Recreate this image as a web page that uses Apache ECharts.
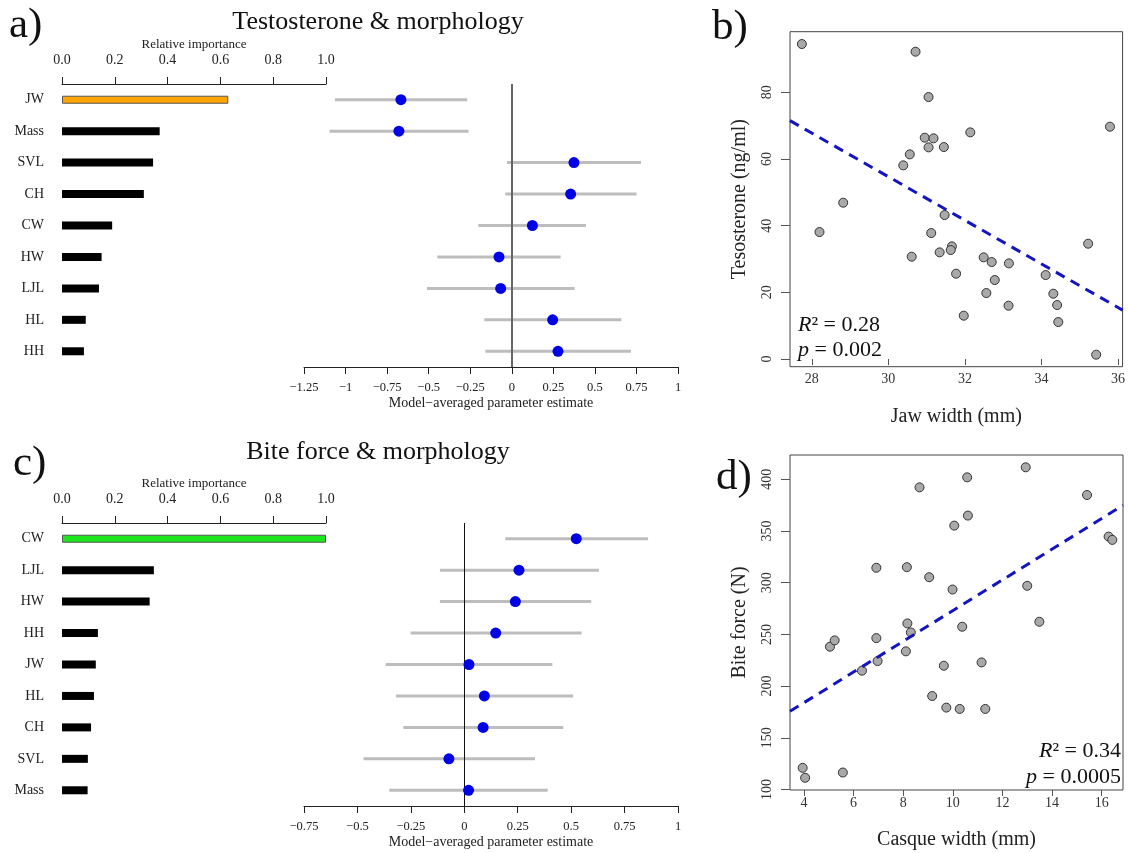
<!DOCTYPE html>
<html>
<head>
<meta charset="utf-8">
<script src="https://cdn.jsdelivr.net/npm/echarts@6/dist/echarts.min.js"></script>
<style>
html,body{margin:0;padding:0;background:#fff;}
#chart{width:1128px;height:853px;}
</style>
</head>
<body>
<div id="chart"></div>
<script>
// ---------- Data ----------
const aCats = ['JW','Mass','SVL','CH','CW','HW','LJL','HL','HH'];
const aImportance = [0.63,0.37,0.345,0.31,0.19,0.15,0.14,0.09,0.083];
const aEstimate = [-0.667,-0.679,0.374,0.354,0.124,-0.077,-0.067,0.246,0.278];
const aLower = [-1.064,-1.096,-0.029,-0.039,-0.201,-0.448,-0.51,-0.165,-0.159];
const aUpper = [-0.268,-0.26,0.777,0.751,0.446,0.294,0.378,0.659,0.717];

const cCats = ['CW','LJL','HW','HH','JW','HL','CH','SVL','Mass'];
const cImportance = [1.0,0.348,0.332,0.136,0.128,0.121,0.11,0.098,0.097];
const cEstimate = [0.524,0.256,0.239,0.147,0.022,0.094,0.088,-0.072,0.02];
const cLower = [0.192,-0.114,-0.114,-0.251,-0.368,-0.32,-0.285,-0.472,-0.351];
const cUpper = [0.86,0.63,0.594,0.549,0.412,0.509,0.463,0.331,0.39];

const bJaw = [27.74,30.71,31.05,30.95,31.18,31.05,31.45,32.14,30.56,30.39,35.79,28.82,28.2,31.47,31.12,30.61,31.34,31.66,31.63,31.77,32.49,32.7,32.78,33.15,32.56,33.14,31.97,34.11,35.22,34.31,34.41,34.44,35.43];
const bTesto = [94.5,92.2,78.6,66.4,66.2,63.5,63.6,68.0,61.4,58.1,69.7,46.9,38.1,43.2,37.8,30.7,32.0,33.8,32.7,25.6,30.5,29.1,23.7,28.7,19.8,16.0,13.0,25.2,34.6,19.6,16.2,11.1,1.3];
const bFit = {intercept: 250.9, slope: -6.54};
const bXTicks = [28,30,32,34,36];
const bYTicks = [0,20,40,60,80];

const dCasque = [3.95,4.05,5.57,5.05,5.24,6.34,6.92,6.92,6.97,8.11,8.15,8.17,8.31,8.66,9.05,9.17,9.64,9.74,9.99,10.06,10.28,10.38,10.58,10.61,11.16,11.31,12.94,13.0,13.49,15.41,16.28,16.43];
const dBite = [120.9,111.3,116.4,238.1,244.2,214.9,314.4,246.4,224.2,233.6,315.0,260.6,251.9,392.2,305.3,190.4,219.7,179.2,293.4,355.2,177.9,257.4,401.9,364.9,222.9,177.9,411.6,297.0,262.2,384.8,344.6,341.4];
const dFit = {intercept: 124.5, slope: 14.85};
const dXTicks = [4,6,8,10,12,14,16];
const dYTicks = [100,150,200,250,300,350,400];

// ---------- Helpers ----------
const SERIF = '"Liberation Serif","Times New Roman",serif';
const bRange = {x:[27.43,36.12], y:[-2.3,98.2]};
const dRange = {x:[3.44,16.86], y:[99.5,423.5]};
const minusFmt = v => (v < 0 ? '\u2212' + String(Math.abs(v)) : String(v));

function importanceX(grid){
  return {
    type:'value', gridIndex:grid, position:'top', min:0, max:1, interval:0.2,
    name:'Relative importance', nameLocation:'middle', nameGap:33,
    nameTextStyle:{fontFamily:SERIF, fontSize:13, color:'#222'},
    axisLine:{show:true, lineStyle:{color:'#222', width:1}},
    axisTick:{show:true, length:7, lineStyle:{color:'#222'}},
    axisLabel:{fontFamily:SERIF, fontSize:14, color:'#222', margin:17, formatter:v=>v.toFixed(1)},
    splitLine:{show:false}
  };
}
function estimateX(grid, min){
  return {
    type:'value', gridIndex:grid, position:'bottom', min:min, max:1, interval:0.25,
    name:'Model\u2212averaged parameter estimate', nameLocation:'middle', nameGap:29,
    nameTextStyle:{fontFamily:SERIF, fontSize:14, color:'#222'},
    axisLine:{show:true, lineStyle:{color:'#222', width:1}},
    axisTick:{show:true, length:7, lineStyle:{color:'#222'}},
    axisLabel:{fontFamily:SERIF, fontSize:12.5, color:'#222', margin:14, formatter:minusFmt},
    splitLine:{show:false}
  };
}
function catY(grid, cats, showLabels){
  return {
    type:'category', gridIndex:grid, data:cats, inverse:true,
    axisLine:{show:false}, axisTick:{show:false},
    axisLabel:{show:showLabels, fontFamily:SERIF, fontSize:14, color:'#222', margin:18},
    splitLine:{show:false}
  };
}
function scatterX(grid, range, ticks, name){
  return {
    type:'value', gridIndex:grid, min:range[0], max:range[1],
    name:name, nameLocation:'middle', nameGap:40,
    nameTextStyle:{fontFamily:SERIF, fontSize:20, color:'#222'},
    axisLine:{show:false},
    axisTick:{show:true, length:6, customValues:ticks, lineStyle:{color:'#555'}},
    axisLabel:{fontFamily:SERIF, fontSize:14, color:'#333', margin:6, customValues:ticks},
    splitLine:{show:false}
  };
}
function scatterY(grid, range, ticks, name){
  return {
    type:'value', gridIndex:grid, min:range[0], max:range[1],
    name:name, nameLocation:'middle', nameGap:40, nameRotate:90,
    nameTextStyle:{fontFamily:SERIF, fontSize:20, color:'#222'},
    axisLine:{show:false},
    axisTick:{show:true, length:9, customValues:ticks, lineStyle:{color:'#555'}},
    axisLabel:{fontFamily:SERIF, fontSize:14, color:'#333', margin:16, rotate:90, customValues:ticks},
    splitLine:{show:false}
  };
}
function barData(vals, hiIdx, hiColor){
  return vals.map((v,i)=> i===hiIdx
    ? {value:v, itemStyle:{color:hiColor, borderColor:'#555', borderWidth:1}}
    : {value:v, itemStyle:{color:'#000'}});
}
function errorBars(xi, yi, lo, hi){
  return {
    type:'custom', xAxisIndex:xi, yAxisIndex:yi, z:2,
    data: lo.map((l,i)=>[l, hi[i], i]),
    encode:{x:[0,1], y:2},
    renderItem:(params, api)=>{
      const p1 = api.coord([api.value(0), api.value(2)]);
      const p2 = api.coord([api.value(1), api.value(2)]);
      return {type:'line', shape:{x1:p1[0], y1:p1[1], x2:p2[0], y2:p2[1]},
              style:{stroke:'#bdbdbd', lineWidth:3}};
    }
  };
}
function estPoints(xi, yi, est, zeroColor, zeroWidth){
  return {
    type:'scatter', xAxisIndex:xi, yAxisIndex:yi, z:5,
    data: est.map((v,i)=>[v,i]),
    symbolSize:11, itemStyle:{color:'#0000e6', opacity:1},
    markLine:{silent:true, symbol:'none', label:{show:false},
      lineStyle:{color:zeroColor, width:zeroWidth, type:'solid'},
      data:[{xAxis:0}]}
  };
}
function fitLine(xi, yi, range, fit){
  return {
    type:'line', xAxisIndex:xi, yAxisIndex:yi, z:6, showSymbol:false, symbol:'none',
    data: range.map(x=>[x, fit.intercept + fit.slope*x]),
    lineStyle:{color:'#1414c0', width:3, type:[10,7]}
  };
}
function dots(xi, yi, xs, ys){
  return {
    type:'scatter', xAxisIndex:xi, yAxisIndex:yi, z:4,
    data: xs.map((x,i)=>[x, ys[i]]),
    symbolSize:9, itemStyle:{color:'#a9a9a9', borderColor:'#333', borderWidth:1, opacity:1}
  };
}

const chart = echarts.init(document.getElementById('chart'), null, {renderer:'canvas'});
const option = {
  backgroundColor:'#fff',
  animation:false,
  grid:[
    {left:62, top:84, width:264, height:283},
    {left:304, top:84, width:374, height:283},
    {left:790, top:31.7, width:333.3, height:335, show:true, borderColor:'#444', borderWidth:1},
    {left:62, top:523, width:264, height:283},
    {left:304, top:523, width:374, height:283},
    {left:790, top:455, width:333, height:335, show:true, borderColor:'#444', borderWidth:1}
  ],
  xAxis:[
    importanceX(0),
    estimateX(1, -1.25),
    scatterX(2, bRange.x, bXTicks, 'Jaw width (mm)'),
    importanceX(3),
    estimateX(4, -0.75),
    scatterX(5, dRange.x, dXTicks, 'Casque width (mm)')
  ],
  yAxis:[
    catY(0, aCats, true),
    catY(1, aCats, false),
    scatterY(2, bRange.y, bYTicks, 'Tesosterone (ng/ml)'),
    catY(3, cCats, true),
    catY(4, cCats, false),
    scatterY(5, dRange.y, dYTicks, 'Bite force (N)')
  ],
  series:[
    {type:'bar', xAxisIndex:0, yAxisIndex:0, barWidth:8, data:barData(aImportance, 0, '#ffa500')},
    errorBars(1,1,aLower,aUpper),
    estPoints(1,1,aEstimate,'#666',2),
    dots(2,2,bJaw,bTesto),
    fitLine(2,2,bRange.x,bFit),
    {type:'bar', xAxisIndex:3, yAxisIndex:3, barWidth:8, data:barData(cImportance, 0, '#1ee61e')},
    errorBars(4,4,cLower,cUpper),
    estPoints(4,4,cEstimate,'#111',1),
    dots(5,5,dCasque,dBite),
    fitLine(5,5,dRange.x,dFit)
  ],
  graphic:[
    {type:'text', left:9, top:4, style:{text:'a)', font:'43px '+SERIF, fill:'#111'}},
    {type:'text', x:378, y:22, style:{text:'Testosterone & morphology', font:'26px '+SERIF, fill:'#111', align:'center', verticalAlign:'middle'}},
    {type:'text', left:712, top:6, style:{text:'b)', font:'43px '+SERIF, fill:'#111'}},
    {type:'text', left:13, top:442, style:{text:'c)', font:'43px '+SERIF, fill:'#111'}},
    {type:'text', x:378, y:452, style:{text:'Bite force & morphology', font:'26px '+SERIF, fill:'#111', align:'center', verticalAlign:'middle'}},
    {type:'text', left:716, top:456, style:{text:'d)', font:'43px '+SERIF, fill:'#111'}},
    {type:'text', x:798, y:325, style:{text:'{i|R}\u00b2 = 0.28', rich:{i:{fontStyle:'italic', fontFamily:SERIF, fontSize:22}}, fontFamily:SERIF, fontSize:22, fill:'#111', align:'left', verticalAlign:'middle'}},
    {type:'text', x:798, y:350, style:{text:'{i|p} = 0.002', rich:{i:{fontStyle:'italic', fontFamily:SERIF, fontSize:22}}, fontFamily:SERIF, fontSize:22, fill:'#111', align:'left', verticalAlign:'middle'}},
    {type:'text', x:1121, y:751, style:{text:'{i|R}\u00b2 = 0.34', rich:{i:{fontStyle:'italic', fontFamily:SERIF, fontSize:22}}, fontFamily:SERIF, fontSize:22, fill:'#111', align:'right', verticalAlign:'middle'}},
    {type:'text', x:1121, y:777, style:{text:'{i|p} = 0.0005', rich:{i:{fontStyle:'italic', fontFamily:SERIF, fontSize:22}}, fontFamily:SERIF, fontSize:22, fill:'#111', align:'right', verticalAlign:'middle'}}
  ]
};
chart.setOption(option);
</script>
</body>
</html>
